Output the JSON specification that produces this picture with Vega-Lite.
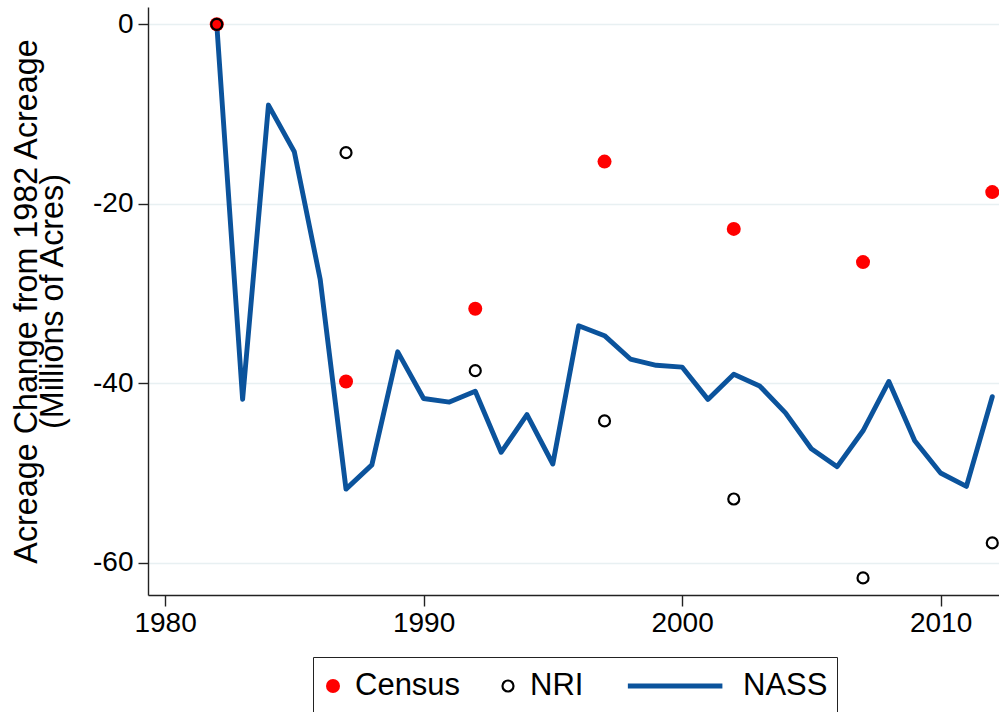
{
  "$schema": "https://vega.github.io/schema/vega-lite/v6.json",
  "width": 851,
  "height": 588,
  "autosize": {"type": "none"},
  "padding": {"left": 148, "top": 7, "right": 0, "bottom": 117},
  "background": "white",
  "data": {"values": [
    {"year": 1982, "value": 0, "series": "NASS"},
    {"year": 1983, "value": -41.8, "series": "NASS"},
    {"year": 1984, "value": -9.0, "series": "NASS"},
    {"year": 1985, "value": -14.2, "series": "NASS"},
    {"year": 1986, "value": -28.4, "series": "NASS"},
    {"year": 1987, "value": -51.8, "series": "NASS"},
    {"year": 1988, "value": -49.1, "series": "NASS"},
    {"year": 1989, "value": -36.5, "series": "NASS"},
    {"year": 1990, "value": -41.7, "series": "NASS"},
    {"year": 1991, "value": -42.1, "series": "NASS"},
    {"year": 1992, "value": -40.9, "series": "NASS"},
    {"year": 1993, "value": -47.7, "series": "NASS"},
    {"year": 1994, "value": -43.5, "series": "NASS"},
    {"year": 1995, "value": -49.0, "series": "NASS"},
    {"year": 1996, "value": -33.6, "series": "NASS"},
    {"year": 1997, "value": -34.7, "series": "NASS"},
    {"year": 1998, "value": -37.3, "series": "NASS"},
    {"year": 1999, "value": -38.0, "series": "NASS"},
    {"year": 2000, "value": -38.2, "series": "NASS"},
    {"year": 2001, "value": -41.8, "series": "NASS"},
    {"year": 2002, "value": -39.0, "series": "NASS"},
    {"year": 2003, "value": -40.3, "series": "NASS"},
    {"year": 2004, "value": -43.3, "series": "NASS"},
    {"year": 2005, "value": -47.3, "series": "NASS"},
    {"year": 2006, "value": -49.3, "series": "NASS"},
    {"year": 2007, "value": -45.3, "series": "NASS"},
    {"year": 2008, "value": -39.8, "series": "NASS"},
    {"year": 2009, "value": -46.4, "series": "NASS"},
    {"year": 2010, "value": -50.0, "series": "NASS"},
    {"year": 2011, "value": -51.5, "series": "NASS"},
    {"year": 2012, "value": -41.5, "series": "NASS"},
    {"year": 1982, "value": 0, "series": "Census"},
    {"year": 1987, "value": -39.8, "series": "Census"},
    {"year": 1992, "value": -31.7, "series": "Census"},
    {"year": 1997, "value": -15.3, "series": "Census"},
    {"year": 2002, "value": -22.8, "series": "Census"},
    {"year": 2007, "value": -26.5, "series": "Census"},
    {"year": 2012, "value": -18.7, "series": "Census"},
    {"year": 1982, "value": 0, "series": "NRI"},
    {"year": 1987, "value": -14.3, "series": "NRI"},
    {"year": 1992, "value": -38.6, "series": "NRI"},
    {"year": 1997, "value": -44.2, "series": "NRI"},
    {"year": 2002, "value": -52.9, "series": "NRI"},
    {"year": 2007, "value": -61.7, "series": "NRI"},
    {"year": 2012, "value": -57.8, "series": "NRI"}
  ]},
  "encoding": {
    "x": {
      "field": "year", "type": "quantitative",
      "scale": {"domain": [1979.34, 2012.26], "nice": false, "zero": false},
      "axis": {"values": [1980, 1990, 2000, 2010], "format": "d", "grid": false, "title": null,
               "tickSize": 11, "labelPadding": 3, "labelFlush": false}
    },
    "y": {
      "field": "value", "type": "quantitative",
      "scale": {"domain": [-63.6, 1.93], "nice": false, "zero": false},
      "axis": {"values": [0, -20, -40, -60], "grid": true, "tickSize": 10, "labelPadding": 5,
               "labelExpr": "'' + datum.value",
               "title": ["Acreage Change from 1982 Acreage", "(Millions of Acres)"],
               "titleFontSize": 32.3, "titleFontWeight": "normal", "titleAngle": -90,
               "titleX": -112, "titleY": 294, "titleAlign": "center", "titleBaseline": "alphabetic",
               "titleLineHeight": 26, "labelFlush": false}
    }
  },
  "layer": [
    {
      "transform": [{"filter": "datum.series === 'NASS'"}],
      "mark": {"type": "line", "strokeJoin": "round", "strokeCap": "round"},
      "encoding": {
        "stroke": {"field": "series", "type": "nominal", "title": null,
                   "scale": {"domain": ["Census", "NRI", "NASS"], "range": ["#ff0000", "#000000", "#0b539c"]}},
        "strokeWidth": {"field": "series", "type": "nominal", "title": null,
                   "scale": {"type": "ordinal", "domain": ["Census", "NRI", "NASS"], "range": [0, 2.2, 4.9]}}
      }
    },
    {
      "transform": [{"filter": "datum.series !== 'NASS'"}],
      "mark": {"type": "point", "opacity": 1},
      "encoding": {
        "order": {"field": "series", "sort": "ascending"},
        "fill": {"field": "series", "type": "nominal", "title": null,
                 "scale": {"domain": ["Census", "NRI", "NASS"], "range": ["#ff0000", "transparent", "transparent"]}},
        "stroke": {"field": "series", "type": "nominal", "title": null,
                   "scale": {"domain": ["Census", "NRI", "NASS"], "range": ["#ff0000", "#000000", "#0b539c"]}},
        "strokeWidth": {"field": "series", "type": "nominal", "title": null,
                   "scale": {"type": "ordinal", "domain": ["Census", "NRI", "NASS"], "range": [0, 2.2, 4.9]}},
        "shape": {"field": "series", "type": "nominal", "title": null,
                  "scale": {"domain": ["Census", "NRI", "NASS"], "range": ["circle", "circle", "M-0.83,0H0.8"]}},
        "size": {"field": "series", "type": "nominal", "title": null,
                 "scale": {"type": "ordinal", "domain": ["Census", "NRI", "NASS"], "range": [196, 121, 13456]}}
      }
    }
  ],
  "config": {
    "view": {"stroke": null},
    "font": "Liberation Sans",
    "axis": {
      "labelFont": "Liberation Sans", "labelFontSize": 28, "labelColor": "#000000",
      "titleFont": "Liberation Sans", "titleColor": "#000000",
      "domainColor": "#222222", "domainWidth": 1.4, "tickColor": "#222222", "tickWidth": 1.4,
      "gridColor": "#e8f0f2", "gridWidth": 1.5
    },
    "legend": {
      "orient": "none", "legendX": 165, "legendY": 650, "direction": "horizontal",
      "padding": 9, "strokeColor": "#222222", "fillColor": "#ffffff",
      "labelFont": "Liberation Sans", "labelFontSize": 31, "labelColor": "#000000",
      "clipHeight": 40, "symbolOffset": -4.5, "labelOffset": 6.5, "columnPadding": 36
    }
  }
}
